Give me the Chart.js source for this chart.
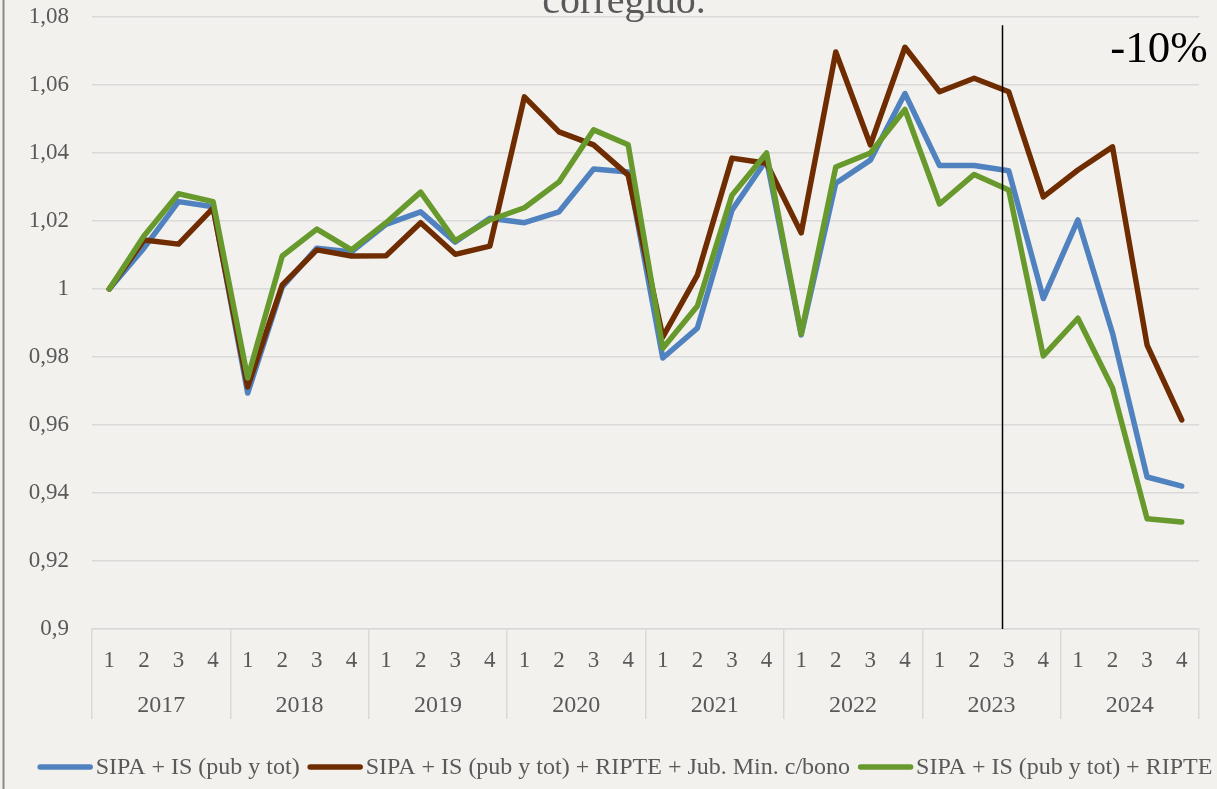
<!DOCTYPE html>
<html>
<head>
<meta charset="utf-8">
<script src="https://cdn.jsdelivr.net/npm/chart.js@4.4.1/dist/chart.umd.min.js"></script>
<style>
  html, body { margin: 0; padding: 0; background: #f2f1ed; }
  #chart { display: block; }
</style>
</head>
<body>
<canvas id="chart" width="1217" height="789"></canvas>
<script>
// Quarter index within year, repeated for 2017..2024
const quarterLabels = ['1', '2', '3', '4', '1', '2', '3', '4', '1', '2', '3', '4', '1', '2', '3', '4',
                       '1', '2', '3', '4', '1', '2', '3', '4', '1', '2', '3', '4', '1', '2', '3', '4'];
const yearLabels = ['2017', '2018', '2019', '2020', '2021', '2022', '2023', '2024'];
const yTicks = { min: 0.9, max: 1.08, step: 0.02 };

const seriesNames = [
  'SIPA + IS (pub y tot)',
  'SIPA + IS (pub y tot) + RIPTE + Jub. Min. c/bono',
  'SIPA + IS (pub y tot) + RIPTE',
];

const sipaIs = [1.000, 1.012, 1.0257, 1.0242, 0.9694, 1.0006, 1.012, 1.0109,
                1.019, 1.0227, 1.0138, 1.0208, 1.0195, 1.0227, 1.0353, 1.0344,
                0.9797, 0.9885, 1.0232, 1.038, 0.9865, 1.0311, 1.0379, 1.0575,
                1.0363, 1.0363, 1.0348, 0.9972, 1.0203, 0.987, 0.9447, 0.942];
const sipaIsRipteJub = [1.000, 1.0144, 1.0132, 1.0238, 0.9712, 1.0012, 1.0115, 1.0097,
                        1.0098, 1.0195, 1.0102, 1.0126, 1.0565, 1.0462, 1.0424, 1.0335,
                        0.9859, 1.0041, 1.0385, 1.037, 1.0165, 1.0697, 1.0424, 1.0711,
                        1.058, 1.062, 1.058, 1.0271, 1.035, 1.0418, 0.9835, 0.9615];
const sipaIsRipte = [1.000, 1.0156, 1.028, 1.0257, 0.9738, 1.0097, 1.0176, 1.0115,
                     1.0195, 1.0285, 1.0142, 1.0203, 1.0239, 1.0315, 1.0468, 1.0424,
                     0.9826, 0.995, 1.0276, 1.04, 0.9868, 1.0359, 1.04, 1.0528,
                     1.025, 1.0337, 1.0291, 0.9803, 0.9914, 0.9709, 0.9324, 0.9315];

// reference line between 2023 Q2 and Q3, and the note beside it
const markerIndex = 25.8;
const markerTop = 1.0776;
const noteText = '-10%';
const titleTail = 'corregido.';

const BLUE = '#5082c0';
const BROWN = '#6e2c00';
const GREEN = '#67992d';
const TEXT = '#595959';
const GRID = '#d9d9d9';
const FONT = '"Liberation Serif", "DejaVu Serif", serif';

Chart.defaults.font.family = FONT;
Chart.defaults.color = TEXT;

function lineSet(label, data, color, order) {
  return {
    label, data, order,
    borderColor: color,
    backgroundColor: color,
    borderWidth: 5.5,
    borderCapStyle: 'round',
    borderJoinStyle: 'round',
    pointRadius: 0,
    tension: 0,
    fill: false,
  };
}

const decorPlugin = {
  id: 'decor',
  beforeDraw(chart) {
    const { ctx, width, height } = chart;
    ctx.save();
    ctx.fillStyle = '#f2f1ed';
    ctx.fillRect(0, 0, width, height);
    ctx.restore();
  },
  afterDatasetsDraw(chart) {
    const { ctx, scales: { x, y } } = chart;
    const px = Math.round(x.getPixelForValue(markerIndex)) + 0.5;
    ctx.save();
    ctx.strokeStyle = '#000';
    ctx.lineWidth = 1.5;
    ctx.beginPath();
    ctx.moveTo(px, y.getPixelForValue(markerTop));
    ctx.lineTo(px, y.getPixelForValue(yTicks.min));
    ctx.stroke();
    ctx.restore();
  },
  afterDraw(chart) {
    const { ctx } = chart;
    ctx.save();
    // left frame edge
    ctx.strokeStyle = '#8d8985';
    ctx.lineWidth = 2;
    ctx.beginPath();
    ctx.moveTo(3.5, 0);
    ctx.lineTo(3.5, chart.height);
    ctx.stroke();

    // clipped title tail
    ctx.fillStyle = TEXT;
    ctx.font = '40px ' + FONT;
    ctx.textAlign = 'center';
    ctx.textBaseline = 'alphabetic';
    ctx.fillText(titleTail, 624, 12.5);

    // note
    ctx.fillStyle = '#000';
    ctx.font = '45px ' + FONT;
    ctx.fillText(noteText, 1159, 62);

    // legend
    ctx.font = '24px ' + FONT;
    ctx.textAlign = 'left';
    ctx.textBaseline = 'middle';
    const sample = 55, gap = 3, itemGap = 8;
    const items = chart.data.datasets.map(ds => ({ ds, w: ctx.measureText(ds.label).width }));
    const total = items.reduce((s, it) => s + sample + gap + it.w, 0) + itemGap * (items.length - 1);
    let lx = 625 - total / 2;
    const ly = 767;
    items.forEach(({ ds, w }) => {
      ctx.strokeStyle = ds.borderColor;
      ctx.lineWidth = 5.5;
      ctx.lineCap = 'round';
      ctx.beginPath();
      ctx.moveTo(lx + 2.5, ly);
      ctx.lineTo(lx + sample - 2.5, ly);
      ctx.stroke();
      ctx.fillStyle = TEXT;
      ctx.fillText(ds.label, lx + sample + gap, ly + 1);
      lx += sample + gap + w + itemGap;
    });
    ctx.restore();
  },
};

new Chart(document.getElementById('chart'), {
  type: 'line',
  data: {
    labels: quarterLabels,
    datasets: [
      lineSet(seriesNames[0], sipaIs, BLUE, 2),
      lineSet(seriesNames[1], sipaIsRipteJub, BROWN, 1),
      lineSet(seriesNames[2], sipaIsRipte, GREEN, 0),
    ],
  },
  options: {
    responsive: false,
    devicePixelRatio: 1,
    animation: false,
    layout: { padding: { top: 17, right: 18, bottom: 60, left: 0 } },
    plugins: {
      legend: { display: false },
      title: { display: false },
      tooltip: { enabled: false },
    },
    scales: {
      y: {
        min: yTicks.min,
        max: yTicks.max,
        ticks: {
          stepSize: yTicks.step,
          padding: 0,
          font: { size: 23 },
          color: TEXT,
          callback: v => String(Math.round(v * 100) / 100).replace('.', ','),
        },
        // invisible tick marks provide the gap between labels and plot
        grid: { color: GRID, lineWidth: 1.5, drawTicks: true, tickLength: 23, tickColor: 'rgba(0,0,0,0)' },
        border: { display: false },
        afterFit: s => { s.width = 92; },
      },
      x: {
        weight: 0,
        offset: true,
        ticks: { font: { size: 23 }, color: TEXT, padding: -72, autoSkip: false, maxRotation: 0 },
        grid: {
          offset: true,
          drawOnChartArea: false,
          drawTicks: true,
          tickLength: 90,
          lineWidth: 1.5,
          color: c => (c.type === 'scale' || c.index % 4 === 0) ? GRID : 'rgba(0,0,0,0)',
        },
        border: { display: true, color: GRID, width: 1.5 },
        afterFit: s => { s.height = 52; },
      },
      year: {
        type: 'category',
        axis: 'x',
        position: 'bottom',
        weight: 1,
        labels: yearLabels,
        offset: true,
        ticks: { font: { size: 24 }, color: TEXT, padding: 10, autoSkip: false, maxRotation: 0 },
        grid: { display: false, drawTicks: false },
        border: { display: false },
        afterFit: s => { s.height = 48; },
      },
    },
  },
  plugins: [decorPlugin],
});
</script>
</body>
</html>
